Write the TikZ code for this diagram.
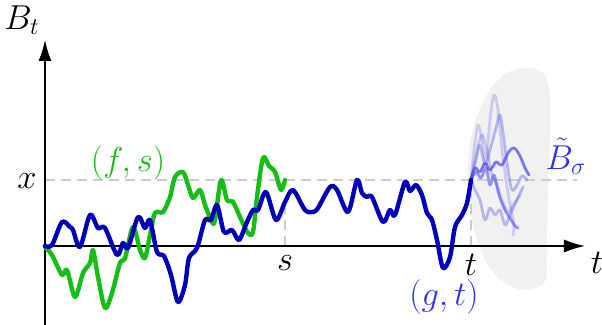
\documentclass[tikz,border=0pt]{standalone}
\usetikzlibrary{arrows.meta}
\definecolor{pathgreen}{RGB}{20,190,20}
\definecolor{pathblue}{RGB}{0,0,185}
\definecolor{lblblue}{RGB}{50,50,230}
\definecolor{fadeblue}{RGB}{70,70,235}
\definecolor{blobgray}{RGB}{241,241,241}
\begin{document}
\begin{tikzpicture}[x=0.5pt,y=-0.5pt,
  axis/.style={line width=0.8pt,-{Latex[length=10.5pt,width=6.5pt]}},
  guide/.style={gray!40,line width=0.8pt,dash pattern=on 5pt off 3pt},
  walk/.style={line width=2.2pt,line join=round,line cap=round},
  fade/.style={walk,fadeblue,line width=1.4pt},
  lbl/.style={font=\fontsize{16.4}{19}\selectfont,inner sep=0pt}]
\useasboundingbox (0,0) rectangle (602,325);
% shaded blob
\fill[blobgray] (490,90) .. controls (505,66) and (530,64) .. (542,72)
  .. controls (552,80) and (551,110) .. (550,140)
  .. controls (548,190) and (546,250) .. (547,275)
  .. controls (546,290) and (525,292) .. (515,288)
  .. controls (492,280) and (474,250) .. (469,200)
  .. controls (465,160) and (470,120) .. (490,90) -- cycle;
% guides
\coordinate (O) at (45,246);
\coordinate (xl) at (45,180);
\coordinate (xr) at (577,180);
\coordinate (sb) at (285,246);
\coordinate (st) at (285,202);
\coordinate (tb) at (471,246);
\coordinate (tt) at (471,180);
\draw[guide] (xl) -- (xr);
\draw[guide] (sb) -- (st);
\draw[guide] (tb) -- (tt);
% axes
\coordinate (yb) at (45,325);
\coordinate (yt) at (45,40);
\coordinate (xe) at (585,246);
\draw[axis] (yb) -- (yt);
\draw[axis] (O) -- (xe);
% faded continuations
\draw[fade,opacity=0.25] plot[smooth,tension=0.55] coordinates {(471,180) (477,150) (482,135) (487,150) (492,175) (497,185) (502,200) (508,212) (513,205) (520,195)};
\draw[fade,opacity=0.22] plot[smooth,tension=0.55] coordinates {(471,180) (474,150) (478,125) (482,140) (486,160) (490,120) (494,95) (498,110) (502,150) (506,180) (510,205) (514,225) (513,235)};
\draw[fade,opacity=0.35] plot[smooth,tension=0.55] coordinates {(471,180) (476,160) (480,145) (485,165) (490,150) (496,128) (500,115) (504,140) (508,170) (512,190) (517,185) (522,176) (527,180)};
\draw[fade,opacity=0.35] plot[smooth,tension=0.55] coordinates {(471,180) (475,190) (480,200) (485,220) (490,208) (495,215) (500,210) (505,225) (510,215) (517,200) (523,187)};
\draw[fade,opacity=0.55] plot[smooth,tension=0.55] coordinates {(471,180) (476,172) (481,178) (486,168) (490,185) (494,175) (499,195) (505,210) (510,218) (515,226) (518,228)};
\draw[fade,opacity=0.7] plot[smooth,tension=0.55] coordinates {(471,180) (475,168) (480,172) (485,163) (490,170) (496,162) (502,165) (508,153) (514,148) (520,156) (525,168) (529,175)};
% green walk
\draw[walk,pathgreen] plot[smooth,tension=0.5] coordinates {(45,247) (52,255) (62,275) (67,270) (75,297) (83,273) (90,263) (93,250) (98,277) (105,308) (112,293) (120,263) (125,258) (133,227) (140,250) (145,258) (150,235) (155,213) (163,212) (170,197) (175,177) (183,172) (188,185) (193,198) (200,190) (205,205) (212,222) (215,220) (221,180) (227,200) (233,202) (240,217) (248,233) (253,232) (257,197) (263,158) (269,166) (275,172) (281,190) (285,180)};
% blue walk
\draw[walk,pathblue] plot[smooth,tension=0.5] coordinates {(45,246) (52,245) (62,222) (70,227) (73,230) (80,247) (90,215) (98,228) (105,228) (117,255) (123,243) (128,248) (138,217) (145,228) (150,220) (157,252) (164,256) (171,275) (178,302) (185,285) (189,258) (197,248) (205,220) (211,220) (217,205) (224,232) (232,230) (239,240) (247,222) (253,210) (258,210) (266,192) (276,220) (285,202) (293,190) (305,210) (313,212) (318,208) (330,187) (337,190) (348,212) (357,180) (362,193) (367,197) (372,197) (383,222) (390,210) (395,215) (405,182) (410,191) (416,185) (422,195) (427,213) (432,220) (437,240) (443,268) (450,257) (455,227) (462,215) (467,203) (471,180)};
% labels
\node[lbl] (lBt) at (22,20) {$B_t$};
\node[lbl] (lt) at (597,263) {$t$};
\node[lbl] (lx) at (27,181) {$x$};
\node[lbl] (ls) at (285,263) {$s$};
\node[lbl] (ltt) at (471,265) {$t$};
\node[lbl,text=pathgreen] (lfs) at (128,163) {$(f,s)$};
\node[lbl,text=lblblue] (lgt) at (444,297) {$(g,t)$};
\node[lbl,text=lblblue] (lBs) at (566,156) {$\tilde B_\sigma$};
\end{tikzpicture}
\end{document}
